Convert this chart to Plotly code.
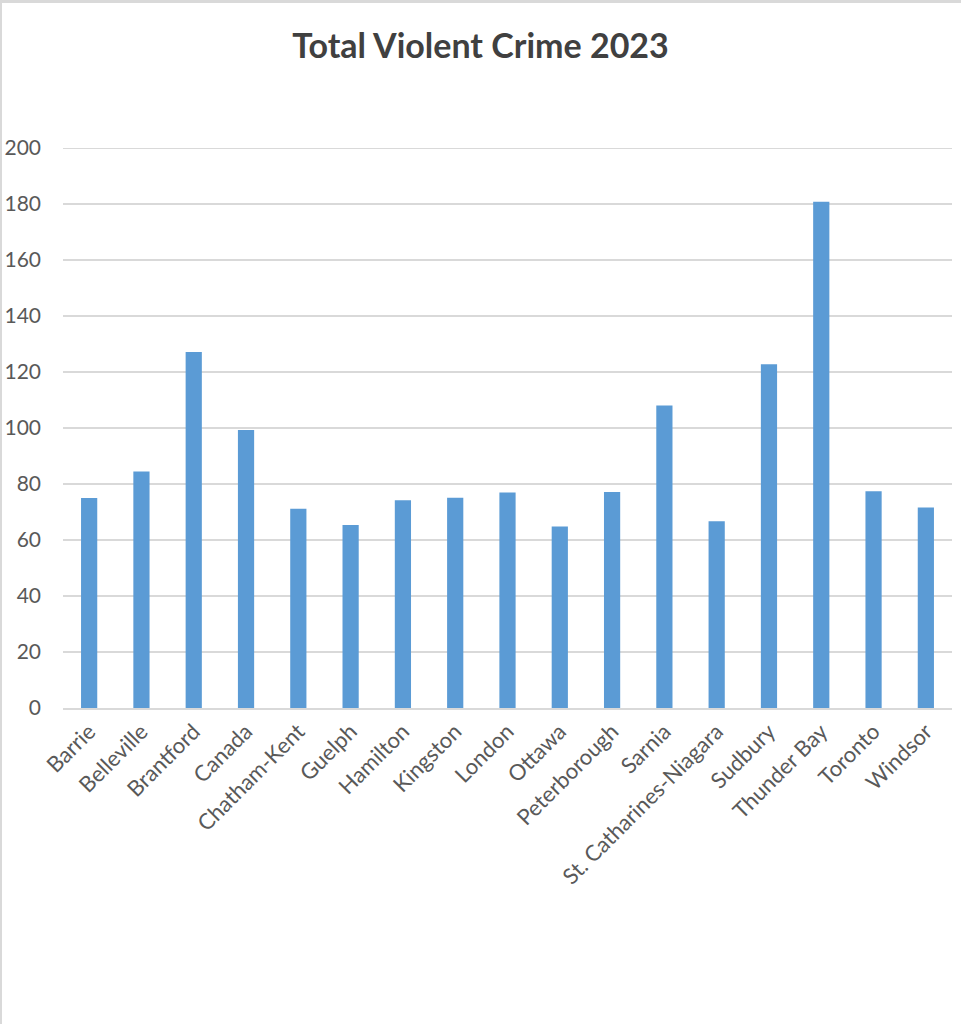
import plotly.graph_objects as go

categories = ["Barrie", "Belleville", "Brantford", "Canada", "Chatham-Kent", "Guelph",
              "Hamilton", "Kingston", "London", "Ottawa", "Peterborough", "Sarnia",
              "St. Catharines-Niagara", "Sudbury", "Thunder Bay", "Toronto", "Windsor"]
values = [75.0, 84.5, 127.1, 99.3, 71.2, 65.4, 74.2, 75.1, 77.0, 64.8, 77.1,
          108.0, 66.7, 122.8, 180.8, 77.4, 71.6]
y_ticks = [0, 20, 40, 60, 80, 100, 120, 140, 160, 180, 200]

W, H = 961, 1024
ML, MR, MT, MB = 63, 9, 148, 316
pw, ph = W - ML - MR, H - MT - MB

fig = go.Figure(go.Bar(x=categories, y=values, marker=dict(color="#5B9BD5", line=dict(width=0)),
                       width=0.31))

fig.update_layout(
    width=W, height=H,
    margin=dict(l=ML, r=MR, t=MT, b=MB, pad=0),
    paper_bgcolor="white", plot_bgcolor="white",
    title=dict(text="<b>Total Violent Crime 2023</b>", x=0.5, xanchor="center",
               y=1 - 46 / H, yanchor="middle",
               font=dict(family="Lato", size=34, color="#404040")),
    font=dict(family="Lato", color="#595959"),
    showlegend=False,
    xaxis=dict(tickangle=-45, tickfont=dict(size=22, color="#595959"), showgrid=False,
               showline=True, linecolor="#d9d9d9", linewidth=2, ticks="", automargin=False),
    yaxis=dict(range=[0, 200], tickvals=y_ticks, tickfont=dict(size=21, color="#595959"),
               showgrid=True, gridcolor="#d9d9d9", gridwidth=2, zeroline=False,
               showline=False, ticks="", ticklabelstandoff=21, automargin=False),
    shapes=[
        dict(type="line", xref="paper", yref="y", x0=0, x1=1, y0=y_ticks[-1], y1=y_ticks[-1],
             line=dict(color="#d9d9d9", width=2), layer="below"),
        dict(type="line", xref="paper", yref="paper", x0=-ML / pw, x1=(pw + MR) / pw,
             y0=1 + (MT - 1.5) / ph, y1=1 + (MT - 1.5) / ph, line=dict(color="#d9d9d9", width=3)),
        dict(type="line", xref="paper", yref="paper", x0=-(ML - 1) / pw, x1=-(ML - 1) / pw,
             y0=-MB / ph, y1=1 + MT / ph, line=dict(color="#d9d9d9", width=2)),
    ],
)

fig.write_html("out.html")
